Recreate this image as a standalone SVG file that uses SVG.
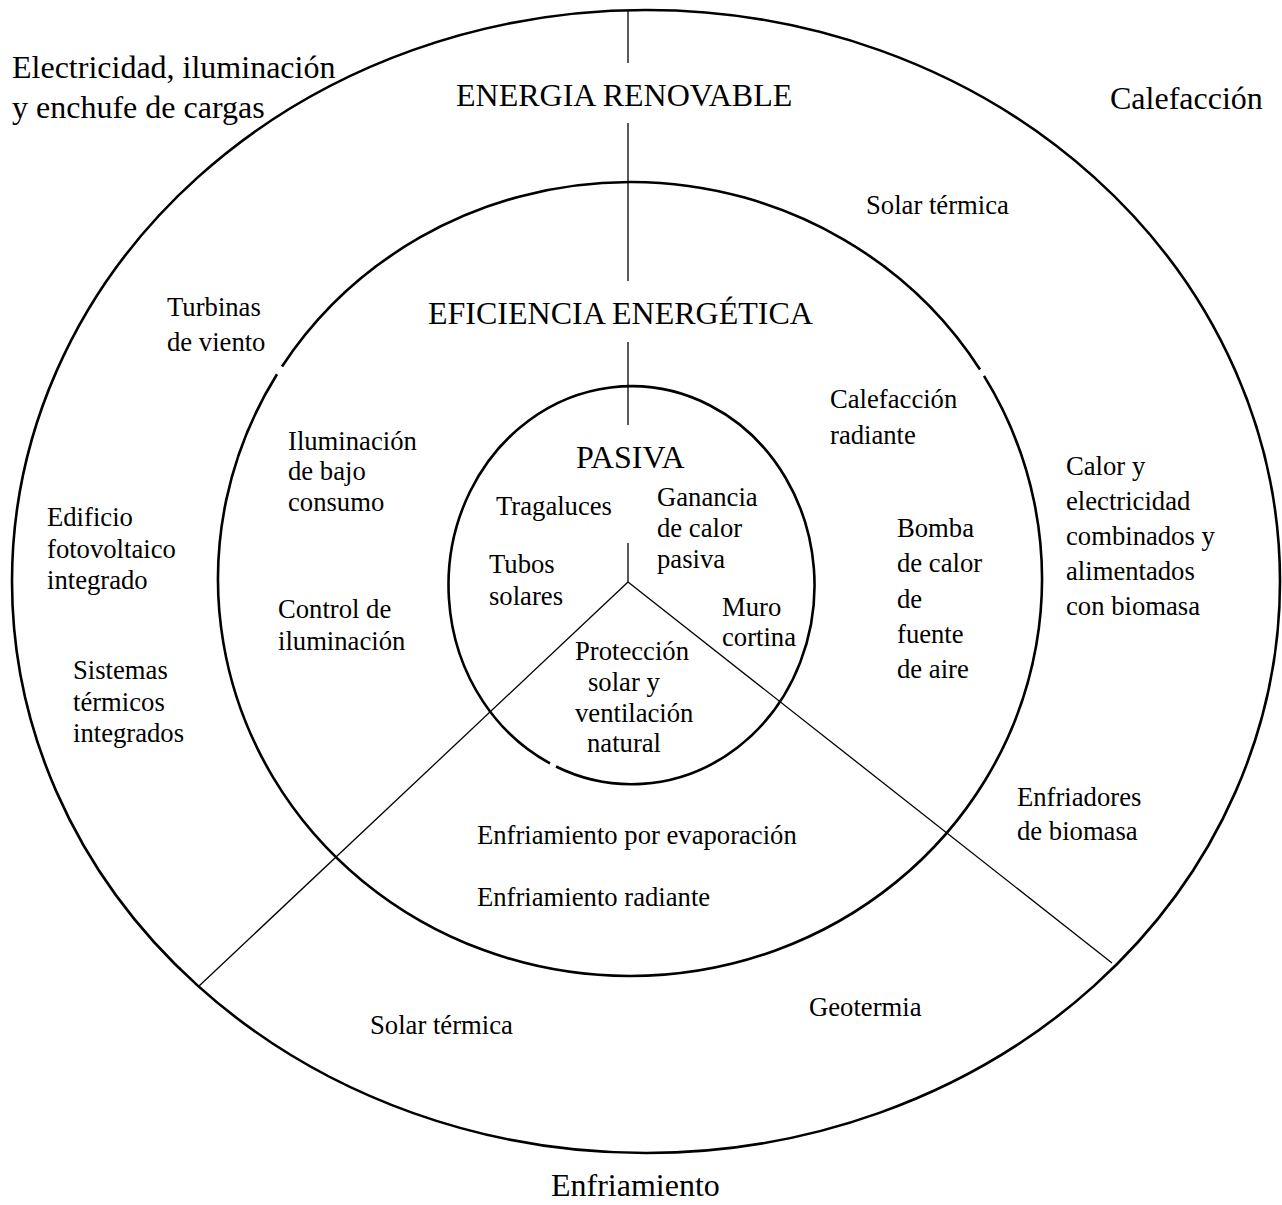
<svg xmlns="http://www.w3.org/2000/svg" width="1282" height="1205" viewBox="0 0 1282 1205">
<style>
text{font-family:"Liberation Serif","Times New Roman",serif;fill:#000}
.big{font-size:32px}
.sm{font-size:26.67px}
.ring{fill:none;stroke:#000;stroke-width:2.6}
.ln{fill:none;stroke:#000;stroke-width:1.3}
</style>
<rect width="1282" height="1205" fill="#fff"/>
<g id="rings">
<ellipse id="outer" class="ring" cx="646" cy="581.5" rx="634" ry="571.5"/>
<path id="middle" class="ring" d="M282,366.5 A412,397 0 0 1 980,369.5 M984,375.9 A412,397 0 1 1 277,374.3"/>
<path id="inner" class="ring" d="M556,766.5 A183,199 0 1 0 550,763.4"/>
</g>
<g id="connectors">
<line class="ln" x1="628" y1="10" x2="628" y2="63"/>
<line class="ln" x1="628" y1="123" x2="628" y2="281"/>
<line class="ln" x1="628" y1="342" x2="628" y2="425"/>
<line class="ln" x1="628" y1="543" x2="628" y2="582"/>
<line class="ln" x1="628" y1="582" x2="198" y2="987"/>
<line class="ln" x1="628" y1="582" x2="1112" y2="963"/>
</g>
<g id="headings">
<text class="big" x="12" y="78">Electricidad, iluminación</text>
<text class="big" x="12" y="118">y enchufe de cargas</text>
<text class="big" x="456" y="106">ENERGIA RENOVABLE</text>
<text class="big" x="1110" y="109">Calefacción</text>
<text class="big" x="428" y="324">EFICIENCIA ENERGÉTICA</text>
<text class="big" x="576" y="468">PASIVA</text>
<text class="big" x="551" y="1196">Enfriamiento</text>
</g>
<g id="renovable-labels">
<text class="sm" x="866" y="214">Solar térmica</text>
<text class="sm" x="167" y="316">Turbinas</text>
<text class="sm" x="167" y="351">de viento</text>
<text class="sm" x="47" y="526">Edificio</text>
<text class="sm" x="47" y="558">fotovoltaico</text>
<text class="sm" x="47" y="589">integrado</text>
<text class="sm" x="73" y="679">Sistemas</text>
<text class="sm" x="73" y="711">térmicos</text>
<text class="sm" x="73" y="742">integrados</text>
<text class="sm" x="1066" y="475">Calor y</text>
<text class="sm" x="1066" y="510">electricidad</text>
<text class="sm" x="1066" y="545">combinados y</text>
<text class="sm" x="1066" y="580">alimentados</text>
<text class="sm" x="1066" y="615">con biomasa</text>
<text class="sm" x="1017" y="806">Enfriadores</text>
<text class="sm" x="1017" y="840">de biomasa</text>
<text class="sm" x="809" y="1016">Geotermia</text>
<text class="sm" x="370" y="1034">Solar térmica</text>
</g>
<g id="eficiencia-labels">
<text class="sm" x="288" y="450">Iluminación</text>
<text class="sm" x="288" y="480">de bajo</text>
<text class="sm" x="288" y="511">consumo</text>
<text class="sm" x="278" y="618">Control de</text>
<text class="sm" x="278" y="650">iluminación</text>
<text class="sm" x="830" y="408">Calefacción</text>
<text class="sm" x="830" y="444">radiante</text>
<text class="sm" x="897" y="537">Bomba</text>
<text class="sm" x="897" y="572">de calor</text>
<text class="sm" x="897" y="608">de</text>
<text class="sm" x="897" y="643">fuente</text>
<text class="sm" x="897" y="678">de aire</text>
<text class="sm" x="477" y="844">Enfriamiento por evaporación</text>
<text class="sm" x="477" y="906">Enfriamiento radiante</text>
</g>
<g id="pasiva-labels">
<text class="sm" x="496" y="515">Tragaluces</text>
<text class="sm" x="489" y="573">Tubos</text>
<text class="sm" x="489" y="605">solares</text>
<text class="sm" x="657" y="506">Ganancia</text>
<text class="sm" x="657" y="537">de calor</text>
<text class="sm" x="657" y="568">pasiva</text>
<text class="sm" x="722" y="616">Muro</text>
<text class="sm" x="722" y="646">cortina</text>
<text class="sm" x="575" y="660">Protección</text>
<text class="sm" x="588" y="691">solar y</text>
<text class="sm" x="575" y="722">ventilación</text>
<text class="sm" x="587" y="752">natural</text>
</g>
</svg>
